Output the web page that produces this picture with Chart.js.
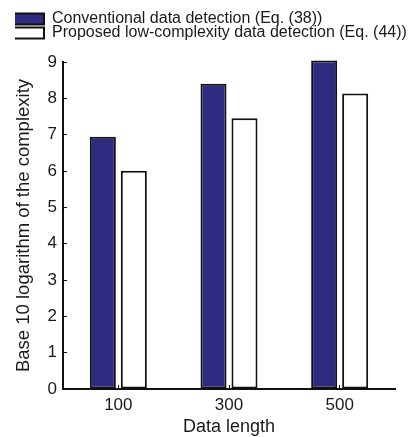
<!DOCTYPE html>
<html>
<head>
<meta charset="utf-8">
<script src="https://cdn.jsdelivr.net/npm/chart.js@4/dist/chart.umd.min.js"></script>
<style>
  html, body { margin: 0; padding: 0; background: #fff; }
  #wrap { width: 409px; height: 437px; }
</style>
</head>
<body>
<div id="wrap"><canvas id="chart"></canvas></div>
<script>
const lengths = ["100", "300", "500"];
const conventional = [6.94, 8.40, 9.04];
const proposed = [6.01, 7.45, 8.13];
const yTicks = [0, 1, 2, 3, 4, 5, 6, 7, 8, 9];

const FONT = "Arial, 'Liberation Sans', sans-serif";

Chart.defaults.font.family = FONT;
Chart.defaults.color = "#1a1a1a";

new Chart(document.getElementById("chart"), {
  type: "bar",
  data: {
    labels: lengths,
    datasets: [
      {
        label: "Conventional data detection (Eq. (38))",
        data: conventional,
        backgroundColor: "#2f2b80",
        borderColor: "#111",
        borderWidth: 2,
        borderSkipped: false,
        clip: false,
      },
      {
        label: "Proposed low-complexity data detection (Eq. (44))",
        data: proposed,
        backgroundColor: "#fff",
        borderColor: "#111",
        borderWidth: 2,
        borderSkipped: false,
        clip: false,
      },
    ],
  },
  options: {
    responsive: true,
    maintainAspectRatio: false,
    animation: false,
    categoryPercentage: 0.56,
    barPercentage: 0.84,
    layout: { padding: { top: 9, left: 15, right: 2, bottom: 0 } },
    plugins: {
      tooltip: { enabled: false },
      // empty title, only used as a gap between legend and plot
      title: { display: true, text: "", position: "top", weight: 500, padding: 0, font: { size: 11, lineHeight: 1 } },
      legend: {
        position: "top",
        align: "start",
        title: { display: true, text: "", padding: 0, font: { size: 4, lineHeight: 1 } },
        labels: {
          boxWidth: 31,
          boxHeight: 11,
          padding: -2,
          color: "#1a1a1a",
          font: { size: 16 },
        },
        onClick: null,
      },
    },
    scales: {
      x: {
        grid: { display: true, drawOnChartArea: false, offset: false, tickLength: -4, color: "#111", lineWidth: 1 },
        border: { display: true, color: "#111", width: 2 },
        ticks: { padding: 10, font: { size: 17 } },
        title: { display: true, text: "Data length", font: { size: 18, lineHeight: 1.1 }, padding: { top: 0, bottom: 0 } },
        afterFit: (s) => { s.height = 48; s.paddingRight = 14; },
      },
      y: {
        min: 0,
        max: 9,
        afterBuildTicks: (s) => { s.ticks = yTicks.map((v) => ({ value: v })); },
        grid: { display: true, drawOnChartArea: false, tickLength: -4, color: "#111", lineWidth: 1 },
        border: { display: true, color: "#111", width: 2 },
        ticks: { padding: 10, font: { size: 17 } },
        title: { display: true, text: "Base 10 logarithm of the complexity", font: { size: 18.5, lineHeight: 1.0 }, padding: { top: 0, bottom: 0 } },
        afterFit: (s) => { s.width = 48; },
      },
    },
  },
});
</script>
</body>
</html>
